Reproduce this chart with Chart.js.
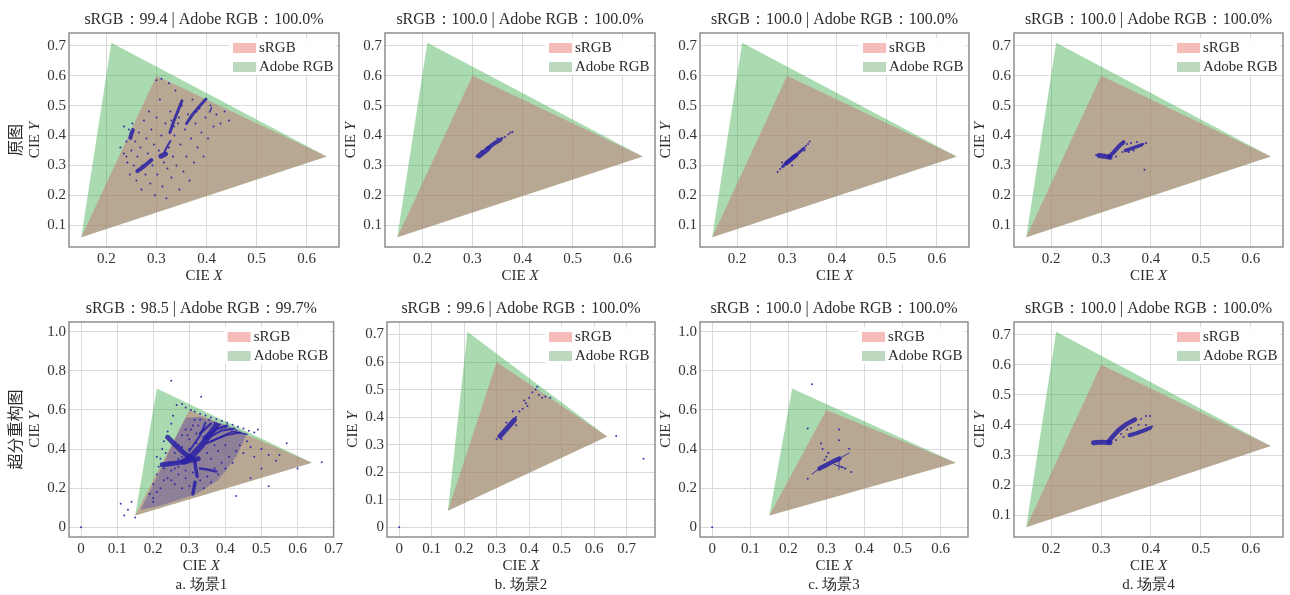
<!DOCTYPE html>
<html>
<head>
<meta charset="utf-8">
<script src="https://cdn.jsdelivr.net/npm/chart.js@4.4.1/dist/chart.umd.min.js"></script>
<style>
  body { margin: 0; background: #fff; width: 1290px; height: 595px; position: relative; overflow: hidden; }
  canvas { position: absolute; }
</style>
</head>
<body>
<canvas id="c0"></canvas><canvas id="c1"></canvas><canvas id="c2"></canvas><canvas id="c3"></canvas>
<canvas id="c4"></canvas><canvas id="c5"></canvas><canvas id="c6"></canvas><canvas id="c7"></canvas>
<script>
// Gamut triangles (CIE xy)
const srgbGamut = [[0.64, 0.33], [0.30, 0.60], [0.15, 0.06]];
const adobeGamut = [[0.64, 0.33], [0.21, 0.71], [0.15, 0.06]];

// Panel titles / captions
const panelTitles = [
  "sRGB：99.4 | Adobe RGB：100.0%", "sRGB：100.0 | Adobe RGB：100.0%",
  "sRGB：100.0 | Adobe RGB：100.0%", "sRGB：100.0 | Adobe RGB：100.0%",
  "sRGB：98.5 | Adobe RGB：99.7%", "sRGB：99.6 | Adobe RGB：100.0%",
  "sRGB：100.0 | Adobe RGB：100.0%", "sRGB：100.0 | Adobe RGB：100.0%"
];
const rowLabels = ["原图", "超分重构图"];
const captions = ["a. 场景1", "b. 场景2", "c. 场景3", "d. 场景4"];

// Tick values
const xTicksTop = [0.2, 0.3, 0.4, 0.5, 0.6];
const yTicksTop = [0.1, 0.2, 0.3, 0.4, 0.5, 0.6, 0.7];
const xTicksWide = [0, 0.1, 0.2, 0.3, 0.4, 0.5, 0.6, 0.7];
const xTicksC = [0, 0.1, 0.2, 0.3, 0.4, 0.5, 0.6];
const yTicksTall = [0, 0.2, 0.4, 0.6, 0.8, 1.0];
const yTicksB = [0, 0.1, 0.2, 0.3, 0.4, 0.5, 0.6, 0.7];

// Axis limits
const xLimTop = [0.1255, 0.6645], yLimTop = [0.0275, 0.7425];
const xLimA = [-0.0333, 0.7], yLimA = [-0.05, 1.05];
const xLimB = [-0.0375, 0.7875], yLimB = [-0.0355, 0.7455];
const xLimC = [-0.032, 0.672], yLimC = [-0.05, 1.05];

// ---- 原图 场景1 ----
const p1Streaks = [
  [[0.262, 0.281], [0.276, 0.298], [0.290, 0.318]],
  [[0.309, 0.331], [0.318, 0.338]],
  [[0.316, 0.345], [0.322, 0.365], [0.328, 0.382]],
  [[0.327, 0.410], [0.333, 0.440], [0.340, 0.470], [0.346, 0.495], [0.351, 0.516]],
  [[0.360, 0.440], [0.372, 0.470], [0.386, 0.498], [0.399, 0.522]],
  [[0.248, 0.392], [0.250, 0.405], [0.253, 0.418]],
  [[0.406, 0.478], [0.410, 0.492]]
];
const p1StreakWidth = [4, 5, 2, 3, 3, 4, 1.5];
const p1Dots = [
  [0.228, 0.36], [0.235, 0.34], [0.240, 0.38], [0.242, 0.31], [0.245, 0.42], [0.247, 0.27], [0.250, 0.35],
  [0.252, 0.44], [0.255, 0.30], [0.258, 0.38], [0.260, 0.25], [0.262, 0.33], [0.265, 0.41], [0.268, 0.36],
  [0.270, 0.22], [0.272, 0.30], [0.275, 0.45], [0.278, 0.27], [0.280, 0.39], [0.283, 0.34], [0.285, 0.48],
  [0.288, 0.24], [0.290, 0.42], [0.292, 0.30], [0.295, 0.37], [0.297, 0.20], [0.300, 0.46], [0.302, 0.27],
  [0.305, 0.35], [0.307, 0.52], [0.310, 0.40], [0.312, 0.23], [0.315, 0.31], [0.318, 0.44], [0.320, 0.19],
  [0.322, 0.29], [0.325, 0.36], [0.328, 0.48], [0.330, 0.26], [0.333, 0.33], [0.336, 0.40], [0.338, 0.55],
  [0.340, 0.30], [0.343, 0.44], [0.346, 0.22], [0.348, 0.37], [0.351, 0.50], [0.354, 0.28], [0.357, 0.42],
  [0.360, 0.33], [0.363, 0.47], [0.366, 0.25], [0.369, 0.39], [0.372, 0.52], [0.375, 0.31], [0.378, 0.44],
  [0.382, 0.36], [0.386, 0.49], [0.390, 0.41], [0.394, 0.33], [0.398, 0.46], [0.403, 0.39], [0.408, 0.50],
  [0.414, 0.43], [0.420, 0.47], [0.428, 0.44], [0.436, 0.48], [0.445, 0.45], [0.300, 0.585], [0.310, 0.59],
  [0.325, 0.575], [0.235, 0.43], [0.240, 0.33], [0.330, 0.45], [0.335, 0.43], [0.345, 0.46], [0.380, 0.48]
];

// ---- 原图 场景2 ----
const p2Streaks = [
  [[0.313, 0.332], [0.322, 0.343], [0.332, 0.357]],
  [[0.335, 0.363], [0.345, 0.375], [0.356, 0.386]]
];
const p2StreakWidth = [5, 4];
const p2Dots = [[0.360, 0.392], [0.365, 0.395], [0.372, 0.404], [0.376, 0.410], [0.330, 0.360], [0.318, 0.347],
  [0.308, 0.330], [0.380, 0.412], [0.350, 0.390]];

// ---- 原图 场景3 ----
const p3Streaks = [
  [[0.291, 0.296], [0.300, 0.310], [0.312, 0.326], [0.322, 0.340], [0.334, 0.358]],
  [[0.299, 0.308], [0.318, 0.334]]
];
const p3StreakWidth = [3, 4.5];
const p3Dots = [[0.286, 0.288], [0.281, 0.278], [0.338, 0.366], [0.342, 0.372], [0.345, 0.380], [0.290, 0.310],
  [0.310, 0.300], [0.335, 0.350]];

// ---- 原图 场景4 ----
const p4Streaks = [
  [[0.296, 0.333], [0.306, 0.331], [0.318, 0.327]],
  [[0.316, 0.330], [0.324, 0.342], [0.332, 0.357], [0.338, 0.368], [0.345, 0.377]],
  [[0.349, 0.350], [0.360, 0.356], [0.370, 0.362], [0.381, 0.369]]
];
const p4StreakWidth = [5, 4, 3.5];
const p4Dots = [[0.290, 0.335], [0.345, 0.380], [0.352, 0.372], [0.360, 0.375], [0.372, 0.378], [0.385, 0.372],
  [0.390, 0.375], [0.355, 0.345], [0.365, 0.350], [0.343, 0.345], [0.330, 0.330], [0.387, 0.286]];

// ---- 超分重构图 场景1 ----
const paHaze = [[0.165, 0.09], [0.195, 0.20], [0.235, 0.35], [0.26, 0.45], [0.29, 0.56], [0.33, 0.565],
  [0.40, 0.525], [0.46, 0.48], [0.43, 0.36], [0.38, 0.24], [0.32, 0.17], [0.22, 0.11]];
const paStreaks = [
  [[0.285, 0.335], [0.310, 0.370], [0.335, 0.420], [0.355, 0.470], [0.375, 0.520]],
  [[0.225, 0.320], [0.260, 0.328], [0.295, 0.338], [0.325, 0.350]],
  [[0.240, 0.460], [0.262, 0.420], [0.285, 0.380], [0.305, 0.355]],
  [[0.315, 0.340], [0.318, 0.300], [0.322, 0.260]],
  [[0.316, 0.230], [0.310, 0.170]],
  [[0.330, 0.300], [0.350, 0.295], [0.375, 0.285]],
  [[0.340, 0.460], [0.380, 0.505], [0.405, 0.520]],
  [[0.350, 0.430], [0.400, 0.470], [0.440, 0.485]],
  [[0.360, 0.440], [0.420, 0.490], [0.460, 0.475]],
  [[0.330, 0.480], [0.360, 0.530]],
  [[0.345, 0.450], [0.390, 0.495], [0.425, 0.505]],
  [[0.300, 0.390], [0.330, 0.470], [0.345, 0.535]]
];
const paStreakWidth = [6, 5, 5, 3.5, 3.5, 2.5, 2.5, 2, 1.5, 2.5, 2, 2];
const paDots = [
  [0, 0], [0.25, 0.75], [0.333, 0.667], [0.49, 0.50], [0.667, 0.333], [0.57, 0.43], [0.13, 0.09], [0.11, 0.12],
  [0.15, 0.05], [0.12, 0.06], [0.14, 0.13], [0.20, 0.13], [0.52, 0.21], [0.47, 0.25], [0.43, 0.16], [0.55, 0.37],
  [0.60, 0.30],
  [0.265, 0.625], [0.28, 0.63], [0.29, 0.612], [0.305, 0.60], [0.315, 0.592], [0.33, 0.58], [0.345, 0.572],
  [0.36, 0.562], [0.375, 0.552], [0.39, 0.543], [0.405, 0.534], [0.42, 0.524], [0.435, 0.514], [0.45, 0.505],
  [0.465, 0.494], [0.48, 0.485],
  [0.19, 0.17], [0.20, 0.22], [0.21, 0.27], [0.215, 0.31], [0.22, 0.35], [0.225, 0.40], [0.23, 0.44],
  [0.24, 0.49], [0.25, 0.53], [0.255, 0.57], [0.235, 0.38], [0.21, 0.36],
  [0.20, 0.15], [0.22, 0.20], [0.24, 0.25], [0.26, 0.22], [0.25, 0.29], [0.27, 0.27], [0.28, 0.20], [0.29, 0.25],
  [0.30, 0.21], [0.31, 0.28], [0.33, 0.24], [0.34, 0.20], [0.35, 0.26], [0.36, 0.23], [0.37, 0.30], [0.38, 0.27],
  [0.39, 0.33], [0.40, 0.30], [0.41, 0.36], [0.42, 0.33], [0.43, 0.39], [0.44, 0.42], [0.45, 0.38], [0.46, 0.44],
  [0.47, 0.41], [0.48, 0.36], [0.50, 0.40], [0.52, 0.37], [0.54, 0.34], [0.50, 0.30],
  [0.26, 0.38], [0.27, 0.42], [0.28, 0.47], [0.29, 0.50], [0.30, 0.45], [0.31, 0.52], [0.32, 0.48], [0.33, 0.55],
  [0.34, 0.50], [0.35, 0.38], [0.36, 0.35], [0.37, 0.42], [0.38, 0.39], [0.39, 0.46], [0.40, 0.42], [0.27, 0.31],
  [0.25, 0.24], [0.23, 0.30], [0.30, 0.40], [0.32, 0.43], [0.21, 0.18], [0.23, 0.24], [0.245, 0.33], [0.26, 0.30],
  [0.28, 0.36], [0.29, 0.29], [0.27, 0.35], [0.28, 0.41], [0.295, 0.47], [0.305, 0.50], [0.315, 0.55],
  [0.325, 0.52], [0.355, 0.55], [0.37, 0.535], [0.385, 0.525], [0.40, 0.51], [0.415, 0.50], [0.43, 0.495]
];

// ---- 超分重构图 场景2 ----
const pbStreaks = [[[0.310, 0.330], [0.325, 0.350], [0.340, 0.370], [0.355, 0.390]]];
const pbStreakWidth = [5];
const pbDots = [[0.36, 0.40], [0.37, 0.42], [0.38, 0.43], [0.39, 0.45], [0.40, 0.47], [0.41, 0.49], [0.42, 0.50],
  [0.425, 0.51], [0.43, 0.48], [0.44, 0.47], [0.45, 0.475], [0.465, 0.47], [0.385, 0.46], [0.395, 0.44],
  [0.35, 0.42], [0.36, 0.37], [0.33, 0.38], [0.30, 0.32], [0.315, 0.32], [0.668, 0.331], [0.752, 0.249], [0, 0]];

// ---- 超分重构图 场景3 ----
const pcStreaks = [
  [[0.282, 0.300], [0.300, 0.318], [0.318, 0.337], [0.334, 0.351]],
  [[0.262, 0.272], [0.282, 0.300]],
  [[0.334, 0.351], [0.360, 0.380]],
  [[0.333, 0.295], [0.333, 0.355]],
  [[0.320, 0.322], [0.350, 0.300]]
];
const pcStreakWidth = [4.5, 1, 1, 1, 1];
const pcDots = [[0.251, 0.505], [0.333, 0.50], [0.286, 0.428], [0.333, 0.445], [0.36, 0.402], [0.365, 0.282],
  [0.251, 0.248], [0.262, 0.732], [0, 0], [0.34, 0.31], [0.35, 0.30], [0.30, 0.36], [0.295, 0.345],
  [0.305, 0.38], [0.29, 0.40]];

// ---- 超分重构图 场景4 ----
const pdStreaks = [
  [[0.285, 0.341], [0.300, 0.343], [0.318, 0.341]],
  [[0.315, 0.345], [0.325, 0.365], [0.335, 0.383], [0.350, 0.402], [0.368, 0.418]],
  [[0.357, 0.366], [0.370, 0.372], [0.385, 0.381], [0.398, 0.390]]
];
const pdStreakWidth = [5, 4.5, 4];
const pdDots = [[0.38, 0.42], [0.39, 0.43], [0.398, 0.43], [0.375, 0.40], [0.36, 0.39], [0.345, 0.36],
  [0.34, 0.37], [0.39, 0.40], [0.402, 0.395], [0.352, 0.385], [0.33, 0.35]];

// Panel layout: plot box left, top, width, height (page pixels)
const boxes = [
  [69, 33, 270, 214], [385, 33, 270, 214], [700, 33, 269, 214], [1014, 33, 269, 214],
  [69, 322, 269, 215], [387, 322, 268, 215], [700, 322, 268, 215], [1014, 322, 269, 215]
];

const panels = [
  { streaks: p1Streaks, widths: p1StreakWidth, dots: p1Dots, xLim: xLimTop, yLim: yLimTop, xTicks: xTicksTop, yTicks: yTicksTop, row: rowLabels[0] },
  { streaks: p2Streaks, widths: p2StreakWidth, dots: p2Dots, xLim: xLimTop, yLim: yLimTop, xTicks: xTicksTop, yTicks: yTicksTop },
  { streaks: p3Streaks, widths: p3StreakWidth, dots: p3Dots, xLim: xLimTop, yLim: yLimTop, xTicks: xTicksTop, yTicks: yTicksTop },
  { streaks: p4Streaks, widths: p4StreakWidth, dots: p4Dots, xLim: xLimTop, yLim: yLimTop, xTicks: xTicksTop, yTicks: yTicksTop },
  { streaks: paStreaks, widths: paStreakWidth, dots: paDots, haze: paHaze, xLim: xLimA, yLim: yLimA, xTicks: xTicksWide, yTicks: yTicksTall, row: rowLabels[1], caption: captions[0] },
  { streaks: pbStreaks, widths: pbStreakWidth, dots: pbDots, xLim: xLimB, yLim: yLimB, xTicks: xTicksWide, yTicks: yTicksB, caption: captions[1] },
  { streaks: pcStreaks, widths: pcStreakWidth, dots: pcDots, xLim: xLimC, yLim: yLimC, xTicks: xTicksC, yTicks: yTicksTall, caption: captions[2] },
  { streaks: pdStreaks, widths: pdStreakWidth, dots: pdDots, xLim: xLimTop, yLim: yLimTop, xTicks: xTicksTop, yTicks: yTicksTop, caption: captions[3] }
];

const SERIF = '"Liberation Serif", "Times New Roman", serif';
const CJK = '"Noto Sans CJK SC", sans-serif';
const textColor = "#2b2b2b";
const dotColor = "rgba(40, 32, 165, 0.9)";

const toPts = (arr) => arr.map((p) => ({ x: p[0], y: p[1] }));
const fmtTick = (v) => (Math.abs(v) < 1e-9 ? "0" : v.toFixed(1));

// "CIE " upright + italic letter
function drawMixed(ctx, cx, cy, plain, ital) {
  ctx.font = "15px " + SERIF;
  const w1 = ctx.measureText(plain).width;
  ctx.font = "italic 15px " + SERIF;
  const w2 = ctx.measureText(ital).width;
  const x = cx - (w1 + w2) / 2;
  ctx.textAlign = "left";
  ctx.font = "15px " + SERIF;
  ctx.fillText(plain, x, cy);
  ctx.font = "italic 15px " + SERIF;
  ctx.fillText(ital, x + w1, cy);
}

const panelDecor = {
  id: "panelDecor",
  afterDraw(chart, args, opts) {
    const { ctx, chartArea: a } = chart;
    const cx = (a.left + a.right) / 2;
    const cy = (a.top + a.bottom) / 2;
    ctx.save();

    // legend (white box, two patches)
    ctx.fillStyle = "rgba(255,255,255,0.9)";
    ctx.fillRect(a.right - 110, a.top + 5, 107, 37);
    ctx.fillStyle = "#f6bcba";
    ctx.fillRect(a.right - 106, a.top + 10, 23, 10);
    ctx.fillStyle = "#bcd8bf";
    ctx.fillRect(a.right - 106, a.top + 29, 23, 10);
    ctx.fillStyle = textColor;
    ctx.font = "15px " + SERIF;
    ctx.textAlign = "left";
    ctx.textBaseline = "middle";
    ctx.fillText("sRGB", a.right - 80, a.top + 15);
    ctx.fillText("Adobe RGB", a.right - 80, a.top + 34);

    // frame
    ctx.strokeStyle = "#8e8e8e";
    ctx.lineWidth = 1.5;
    ctx.strokeRect(a.left, a.top, a.right - a.left, a.bottom - a.top);

    // title
    ctx.fillStyle = textColor;
    ctx.textAlign = "center";
    ctx.font = "16px " + SERIF;
    ctx.fillText(opts.title, cx, a.top - 13);

    // x label
    drawMixed(ctx, cx, a.bottom + 29, "CIE ", "X");

    // y label (rotated)
    ctx.save();
    ctx.translate(a.left - 34, cy);
    ctx.rotate(-Math.PI / 2);
    drawMixed(ctx, 0, 0, "CIE ", "Y");
    ctx.restore();

    if (opts.row) {
      ctx.save();
      ctx.translate(a.left - 54, cy);
      ctx.rotate(-Math.PI / 2);
      ctx.font = "16px " + CJK;
      ctx.textAlign = "center";
      ctx.fillText(opts.row, 0, 0);
      ctx.restore();
    }
    if (opts.caption) {
      ctx.font = "15px " + SERIF;
      ctx.textAlign = "center";
      ctx.fillText(opts.caption, cx, a.bottom + 48);
    }
    ctx.restore();
  }
};

panels.forEach((p, i) => {
  const [L, T, W, H] = boxes[i];
  const canvas = document.getElementById("c" + i);
  const padL = 69, padT = 33, padR = 8, padB = 62;
  canvas.width = W + padL + padR;
  canvas.height = H + padT + padB;
  canvas.style.left = (L - padL) + "px";
  canvas.style.top = (T - padT) + "px";

  const datasets = [];
  // scatter dots on top
  datasets.push({
    label: "points", data: toPts(p.dots), order: 0, showLine: false,
    pointRadius: 1, pointBackgroundColor: dotColor, pointBorderWidth: 0
  });
  p.streaks.forEach((s, k) => {
    datasets.push({
      label: "streak" + k, data: toPts(s), order: 1, showLine: true,
      borderColor: "rgba(40, 32, 165, 0.85)", borderWidth: p.widths[k],
      borderCapStyle: "round", borderJoinStyle: "round", pointRadius: 0, fill: false
    });
  });
  if (p.haze) {
    datasets.push({
      label: "haze", data: toPts(p.haze), order: 2, showLine: true,
      borderWidth: 0, pointRadius: 0, fill: "shape", backgroundColor: "rgba(50, 40, 170, 0.3)"
    });
  }
  datasets.push({
    label: "sRGB", data: toPts(srgbGamut), order: 3, showLine: true,
    borderWidth: 0, pointRadius: 0, fill: "shape", backgroundColor: "rgba(200, 115, 120, 0.5)"
  });
  datasets.push({
    label: "Adobe RGB", data: toPts(adobeGamut), order: 4, showLine: true,
    borderWidth: 0, pointRadius: 0, fill: "shape", backgroundColor: "rgba(43, 165, 58, 0.4)"
  });

  new Chart(canvas.getContext("2d"), {
    type: "scatter",
    data: { datasets },
    options: {
      responsive: false,
      animation: false,
      devicePixelRatio: 1,
      events: [],
      layout: { padding: { left: padL - 40, top: padT, right: padR, bottom: padB - 22 } },
      plugins: {
        legend: { display: false },
        tooltip: { enabled: false },
        panelDecor: { title: panelTitles[i], row: p.row, caption: p.caption }
      },
      scales: {
        x: {
          type: "linear", min: p.xLim[0], max: p.xLim[1],
          afterBuildTicks: (scale) => { scale.ticks = p.xTicks.map((v) => ({ value: v })); },
          afterFit: (scale) => { scale.height = 22; },
          ticks: {
            callback: fmtTick, color: "#333", padding: 3, maxRotation: 0, autoSkip: false,
            font: { family: SERIF, size: 15 }
          },
          grid: { color: "#dadada", lineWidth: 1, drawTicks: false },
          border: { display: false }
        },
        y: {
          type: "linear", min: p.yLim[0], max: p.yLim[1],
          afterBuildTicks: (scale) => { scale.ticks = p.yTicks.map((v) => ({ value: v })); },
          afterFit: (scale) => { scale.width = 40; },
          ticks: {
            callback: fmtTick, color: "#333", padding: 3, autoSkip: false,
            font: { family: SERIF, size: 15 }
          },
          grid: { color: "#dadada", lineWidth: 1, drawTicks: false },
          border: { display: false }
        }
      }
    },
    plugins: [panelDecor]
  });
});
</script>
</body>
</html>
